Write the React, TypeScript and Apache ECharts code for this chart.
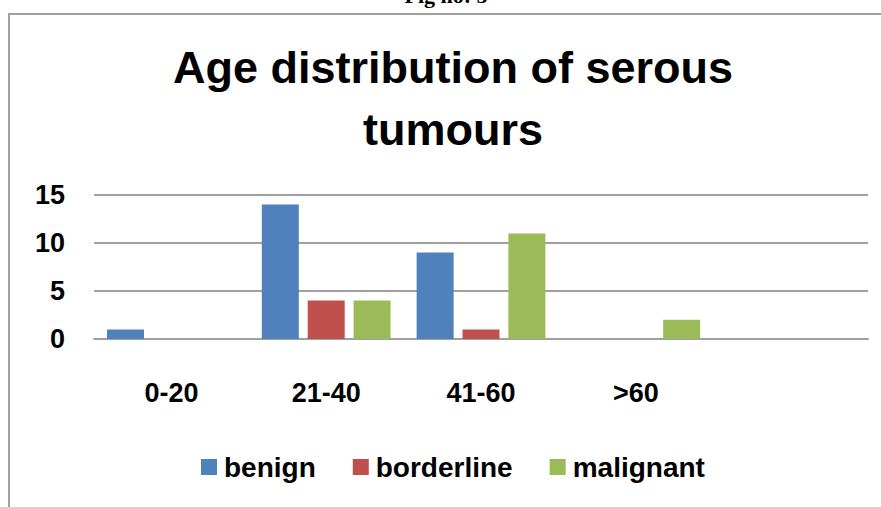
import React, { useEffect, useRef } from "react";
import * as echarts from "echarts";

const categories = ["0-20", "21-40", "41-60", ">60", ""];
const benign = [1, 14, 9, 0, null];
const borderline = [0, 4, 1, 0, null];
const malignant = [0, 4, 11, 2, null];
const yTicks = { min: 0, max: 15, interval: 5 };
const titleText = "Age distribution of serous\ntumours";
const figLabel = "Fig no: 5";

export default function App() {
  const ref = useRef<HTMLDivElement>(null);
  useEffect(() => {
    if (!ref.current) return;
    const chart = echarts.init(ref.current, null, { renderer: "svg" });
    const font = "'Liberation Sans', Arial, sans-serif";
    chart.setOption({
      animation: false,
      backgroundColor: "#ffffff",
      graphic: [
        {
          type: "rect",
          shape: { x: 9, y: 14, width: 900, height: 520 },
          style: { fill: "none", stroke: "#a0a0a0", lineWidth: 2 },
          silent: true,
        },
        {
          type: "text",
          x: 446,
          y: -5,
          style: {
            text: figLabel,
            font: "bold 22px 'Liberation Serif', 'Times New Roman', serif",
            fill: "#000",
            align: "center",
            verticalAlign: "middle",
          },
        },
        {
          type: "text",
          x: 453,
          y: 36,
          style: {
            text: titleText,
            font: `bold 45px ${font}`,
            lineHeight: 62,
            fill: "#000",
            align: "center",
            verticalAlign: "top",
          },
        },
      ],
      legend: {
        left: 196,
        top: 448,
        itemWidth: 16,
        itemHeight: 16,
        itemGap: 37,
        icon: "rect",
        textStyle: {
          fontFamily: font,
          fontWeight: "bold",
          fontSize: 28,
          color: "#000",
          padding: [0, 0, 0, 2],
        },
        data: ["benign", "borderline", "malignant"],
      },
      grid: { left: 94, right: 13, top: 195, bottom: 168, containLabel: false },
      xAxis: {
        type: "category",
        data: categories,
        axisLine: { show: true, lineStyle: { color: "#a0a0a0", width: 2 } },
        axisTick: { show: false },
        axisLabel: {
          interval: 0,
          margin: 40,
          fontFamily: font,
          fontWeight: "bold",
          fontSize: 27,
          color: "#000",
        },
      },
      yAxis: {
        type: "value",
        min: yTicks.min,
        max: yTicks.max,
        interval: yTicks.interval,
        axisLine: { show: false },
        axisTick: { show: false },
        splitLine: { lineStyle: { color: "#a0a0a0", width: 2 } },
        axisLabel: {
          margin: 29,
          fontFamily: font,
          fontWeight: "bold",
          fontSize: 27,
          color: "#000",
        },
      },
      series: [
        { name: "benign", type: "bar", data: benign, barWidth: 37, barGap: "24%", itemStyle: { color: "#4F81BD" } },
        { name: "borderline", type: "bar", data: borderline, barWidth: 37, barGap: "24%", itemStyle: { color: "#C0504D" } },
        { name: "malignant", type: "bar", data: malignant, barWidth: 37, barGap: "24%", itemStyle: { color: "#9BBB59" } },
      ],
    });
    return () => chart.dispose();
  }, []);
  return (
    <div
      ref={ref}
      style={{ position: "fixed", left: 0, top: 0, width: 881, height: 507 }}
    />
  );
}
